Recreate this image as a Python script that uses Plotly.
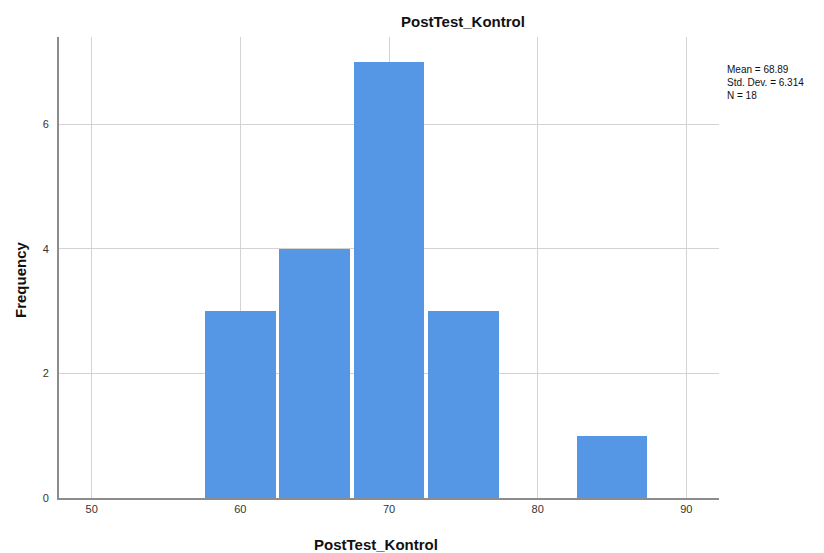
import plotly.graph_objects as go

# Histogram bins (width 5) and frequencies
bin_centers = [60, 65, 70, 75, 80, 85]
counts = [3, 4, 7, 3, 0, 1]
bin_width = 5
bar_fill = 0.95  # fraction of each bin covered by its bar, leaving a thin white gap

x_ticks = [50, 60, 70, 80, 90]
y_ticks = [0, 2, 4, 6]

stats_lines = ["Mean = 68.89", "Std. Dev. = 6.314", "N = 18"]

bar_color = "#5597E4"
grid_color = "#D3D3D3"
axis_color = "#8C8C8C"
font_family = "Liberation Sans, Arial, sans-serif"

fig = go.Figure()
fig.add_trace(go.Bar(
    x=bin_centers,
    y=counts,
    width=[bin_width * bar_fill] * len(bin_centers),
    marker=dict(color=bar_color, line=dict(width=0)),
    hoverinfo="x+y",
))

W, H = 824, 553
ml, mr, mt, mb = 59, 105, 37, 55

fig.update_layout(
    width=W, height=H,
    margin=dict(l=ml, r=mr, t=mt, b=mb),
    paper_bgcolor="white",
    plot_bgcolor="white",
    showlegend=False,
    bargap=0,
    font=dict(family=font_family, color="#222222"),
    xaxis=dict(
        range=[47.8, 92.2],
        tickvals=x_ticks,
        ticktext=[str(v) for v in x_ticks],
        showgrid=True, gridcolor=grid_color, gridwidth=1,
        zeroline=False,
        showline=True, linecolor=axis_color, linewidth=2,
        ticks="", tickfont=dict(size=11, color="#333333"),
    ),
    yaxis=dict(
        range=[0, 7.4],
        tickvals=y_ticks,
        showgrid=True, gridcolor=grid_color, gridwidth=1,
        zeroline=False,
        showline=True, linecolor=axis_color, linewidth=2,
        ticks="", tickfont=dict(size=11, color="#333333"),
        ticklabelstandoff=6,
    ),
)

pw = W - ml - mr
ph = H - mt - mb

def px_x(p):
    return (p - ml) / pw

def px_y(p):
    return 1 - (p - mt) / ph

# Chart title
fig.add_annotation(
    text="<b>PostTest_Kontrol</b>", xref="paper", yref="paper",
    x=px_x(463), y=px_y(22), xanchor="center", yanchor="middle",
    showarrow=False, font=dict(size=15, color="#111111"),
)
# Axis titles
fig.add_annotation(
    text="<b>PostTest_Kontrol</b>", xref="paper", yref="paper",
    x=px_x(376), y=px_y(544), xanchor="center", yanchor="middle",
    showarrow=False, font=dict(size=15, color="#111111"),
)
fig.add_annotation(
    text="<b>Frequency</b>", xref="paper", yref="paper",
    x=px_x(20), y=px_y(280), xanchor="center", yanchor="middle",
    textangle=-90, showarrow=False, font=dict(size=15, color="#111111"),
)
# Summary statistics
fig.add_annotation(
    text="<br>".join(stats_lines), xref="paper", yref="paper",
    x=px_x(725), y=px_y(62), xanchor="left", yanchor="top", align="left",
    showarrow=False, font=dict(size=10, color="#111111"),
)

fig.write_html("out.html")
